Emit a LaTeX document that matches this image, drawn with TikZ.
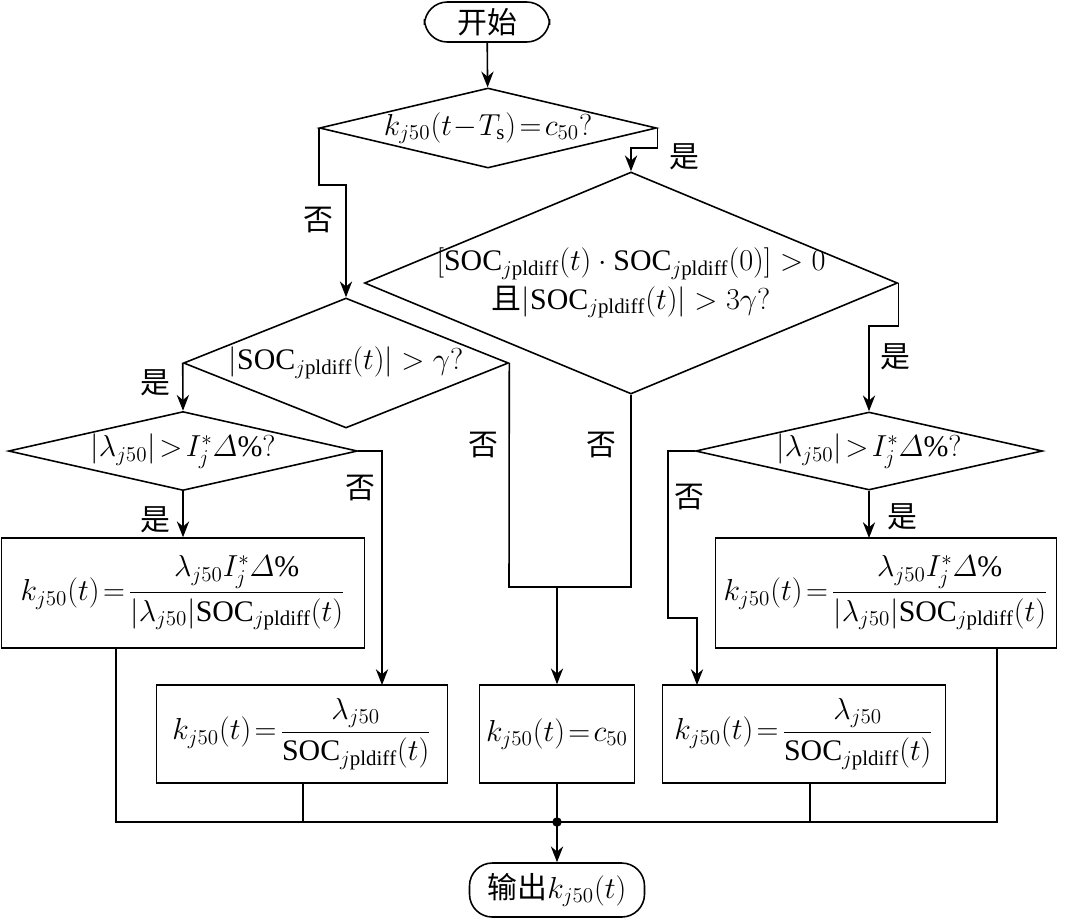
\documentclass[tikz,border=0pt]{standalone}
\usepackage{amsmath}
\usepackage{fontspec}
\setmainfont{Liberation Serif}
\newfontfamily\cjk{Noto Sans CJK SC}
\usetikzlibrary{shapes.geometric,arrows.meta}
\tikzset{
  flow/.style={draw, line width=0.9pt},
  term/.style={flow, rounded corners=13pt, inner sep=0pt},
  box/.style={flow, rectangle, inner sep=0pt},
  cond/.style={flow, diamond, inner sep=0pt},
  txt/.style={draw=none, inner sep=0pt},
  line/.style={line width=0.9pt},
  arr/.style={line width=0.9pt, -{Stealth[length=9pt,width=7pt]}}
}
\newcommand{\zh}[1]{{\cjk #1}}
\begin{document}
\begin{tikzpicture}[x=0.02cm, y=-0.02cm, font=\fontsize{17}{20}\selectfont]
\useasboundingbox (0,0) rectangle (1070,921);
% Terminals
\node[term, minimum width=125*0.02cm, minimum height=40*0.02cm] (start) at (487,22) {\zh{开始}};
\node[term, minimum width=175*0.02cm, minimum height=54*0.02cm] (stop) at (557,890) {\zh{输出}$k_{j50}(t)$};

% Decisions
\node[cond, minimum width=337*0.02cm, minimum height=80*0.02cm] (d1) at (488,128) {};
\node[txt] at (d1) {$k_{j50}(t\!-\!T_{\mathrm{s}})\!=\!c_{50}?$};
\node[cond, minimum width=533*0.02cm, minimum height=222*0.02cm] (d2) at (631,283) {};
\node[txt, align=center] at (d2) {$[\mathrm{SOC}_{j\mathrm{pldiff}}(t)\cdot\mathrm{SOC}_{j\mathrm{pldiff}}(0)]>0$\\[2pt]\zh{且}$|\mathrm{SOC}_{j\mathrm{pldiff}}(t)|>3\gamma?$};
\node[cond, minimum width=325*0.02cm, minimum height=130*0.02cm] (d3) at (346,363) {};
\node[txt] at (d3) {$|\mathrm{SOC}_{j\mathrm{pldiff}}(t)|>\gamma?$};
\node[cond, minimum width=349*0.02cm, minimum height=79*0.02cm] (d4) at (183,451) {};
\node[txt] at (d4) {$|\lambda_{j50}|\!>\!I_j^*\varDelta\%?$};
\node[cond, minimum width=347*0.02cm, minimum height=78*0.02cm] (d5) at (869,451) {};
\node[txt] at (d5) {$|\lambda_{j50}|\!>\!I_j^*\varDelta\%?$};

% Actions
\node[box, minimum width=363*0.02cm, minimum height=110*0.02cm] (b1) at (183,593)
  {$k_{j50}(t)\!=\!\dfrac{\lambda_{j50}I_j^*\varDelta\%}{|\lambda_{j50}|\mathrm{SOC}_{j\mathrm{pldiff}}(t)}$};
\node[box, minimum width=291*0.02cm, minimum height=98*0.02cm] (b2) at (302,734)
  {$k_{j50}(t)\!=\!\dfrac{\lambda_{j50}}{\mathrm{SOC}_{j\mathrm{pldiff}}(t)}$};
\node[box, minimum width=155*0.02cm, minimum height=98*0.02cm] (b3) at (557,734)
  {$k_{j50}(t)\!=\!c_{50}$};
\node[box, minimum width=283*0.02cm, minimum height=98*0.02cm] (b4) at (804,734)
  {$k_{j50}(t)\!=\!\dfrac{\lambda_{j50}}{\mathrm{SOC}_{j\mathrm{pldiff}}(t)}$};
\node[box, minimum width=341*0.02cm, minimum height=110*0.02cm] (b5) at (886,593)
  {$k_{j50}(t)\!=\!\dfrac{\lambda_{j50}I_j^*\varDelta\%}{|\lambda_{j50}|\mathrm{SOC}_{j\mathrm{pldiff}}(t)}$};

% Edges
\draw[arr] (start) -- (d1);
\draw[arr] (d1.east) |- (631,148) -- (d2.north);
\draw[arr] (d1.west) |- (346,185) -- (d3.north);
\draw[arr] (d2.east) |- (869,326) -- (d5.north);
\draw[arr] (d3.west) -- (d4.north);
\draw[arr] (d4.south) -- (b1.north);
\draw[arr] (d4.east) -| (382,685);
\draw[line] (d2.south) -- (631,587) -- (509,587) -- (d3.east);
\draw[arr] (557,587) -- (b3.north);
\draw[arr] (d5.west) -- (668,451) -- (668,618) -- (697,618) -- (697,685);
\draw[arr] (d5.south) -- (869,538);

% Merge
\coordinate (m) at (557,822);
\draw[line] (116,648) |- (997,822) -- (997,648);
\draw[line] (303,783) -- (303,822);
\draw[line] (810,783) -- (810,822);
\draw[arr] (b3.south) -- (stop.north);
\fill (m) circle (2.7pt);

% Labels
\node[txt] at (318,220) {\zh{否}};
\node[txt] at (684,157) {\zh{是}};
\node[txt] at (155,383) {\zh{是}};
\node[txt] at (155,520) {\zh{是}};
\node[txt] at (360,488) {\zh{否}};
\node[txt] at (483,445) {\zh{否}};
\node[txt] at (601,445) {\zh{否}};
\node[txt] at (895,357) {\zh{是}};
\node[txt] at (689,497) {\zh{否}};
\node[txt] at (902,517) {\zh{是}};
\end{tikzpicture}
\end{document}
